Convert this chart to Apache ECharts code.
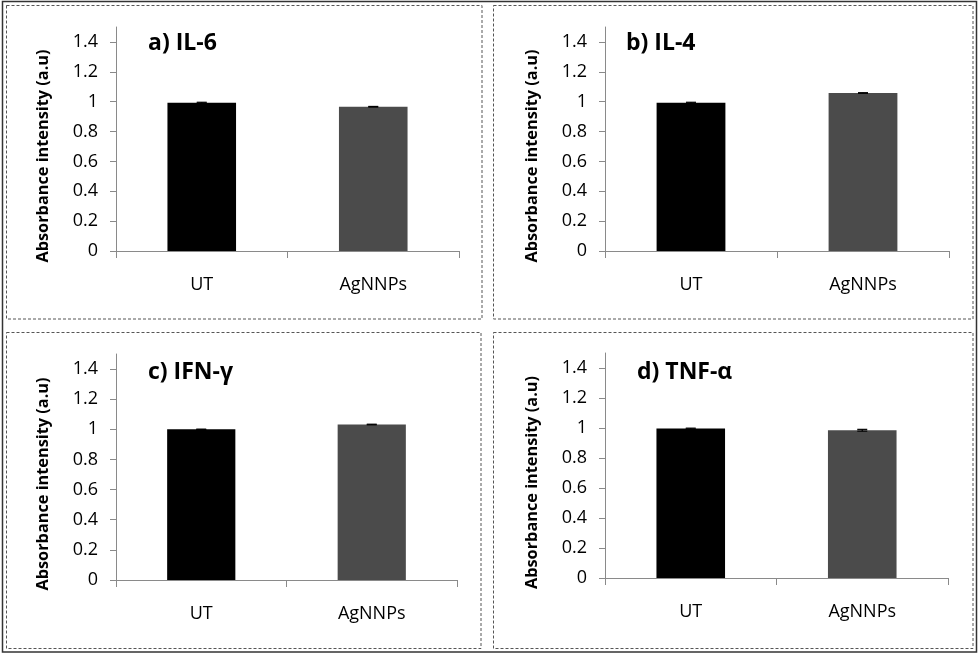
<!DOCTYPE html>
<html><head><meta charset="utf-8">
<script src="https://cdn.jsdelivr.net/npm/echarts@6/dist/echarts.min.js"></script>
<style>html,body{margin:0;padding:0;background:#fff}#c{width:979px;height:655px}</style>
</head><body><div id="c"></div>
<script>
const categories = ['UT', 'AgNNPs'];
const panelTitles = ['a) IL-6', 'b) IL-4', 'c) IFN-γ', 'd) TNF-α'];
const il6 = [0.993, 0.966];
const il4 = [0.993, 1.058];
const ifng = [1.0, 1.032];
const tnfa = [0.996, 0.985];
const il6Err = [0.003, 0.002];
const il4Err = [0.003, 0.002];
const ifngErr = [0.001, 0.002];
const tnfaErr = [0.003, 0.006];
const yTicks = [0, 0.2, 0.4, 0.6, 0.8, 1, 1.2, 1.4];
const yMax = 1.5;
const yAxisTitle = 'Absorbance intensity (a.u)';
const barColors = ['#000000', '#4b4b4b'];

const values = [il6, il4, ifng, tnfa];
const errors = [il6Err, il4Err, ifngErr, tnfaErr];

const grids = [
  { left: 116, top: 27, width: 343, height: 224 },
  { left: 605, top: 27, width: 344, height: 224 },
  { left: 116, top: 354, width: 341, height: 226 },
  { left: 605, top: 353, width: 343, height: 225 }
];
const titlePos = [
  { left: 148, top: 31 },
  { left: 626, top: 31 },
  { left: 148, top: 360 },
  { left: 637, top: 360 }
];
const FONT = '"Open Sans", Lato, sans-serif';
const axisColor = '#8a8a8a';

const option = {
  animation: false,
  backgroundColor: '#ffffff',
  title: panelTitles.map((t, i) => ({
    text: t, left: titlePos[i].left, top: titlePos[i].top, padding: 0,
    textStyle: { fontFamily: FONT, fontSize: 23, fontWeight: 'bold', color: '#000', lineHeight: 24 }
  })),
  grid: grids.map(g => Object.assign({ containLabel: false }, g)),
  xAxis: grids.map((g, i) => ({
    type: 'category', gridIndex: i, data: categories,
    axisLine: { lineStyle: { color: axisColor, width: 1 } },
    axisTick: { show: true, length: 7, lineStyle: { color: axisColor } },
    axisLabel: { margin: 25, fontFamily: FONT, fontSize: 18, color: '#000' },
    splitLine: { show: false }
  })),
  yAxis: grids.map((g, i) => ({
    type: 'value', gridIndex: i, min: 0, max: yMax, interval: 0.2,
    name: yAxisTitle, nameLocation: 'middle', nameRotate: 90, nameGap: 65,
    nameTextStyle: { fontFamily: FONT, fontSize: 16.3, fontWeight: 'bold', color: '#000', padding: [0, 34, 0, 0] },
    axisLine: { show: true, lineStyle: { color: axisColor, width: 1 } },
    axisTick: { show: true, length: 6, lineStyle: { color: axisColor }, customValues: yTicks },
    axisLabel: { margin: 18, fontFamily: FONT, fontSize: 18, color: '#000', customValues: yTicks },
    splitLine: { show: false }
  })),
  series: [].concat(
    values.map((vals, i) => ({
      type: 'bar', xAxisIndex: i, yAxisIndex: i, barWidth: '40%',
      data: vals.map((v, j) => ({ value: v, itemStyle: { color: barColors[j] } }))
    })),
    values.map((vals, i) => ({
      type: 'custom', xAxisIndex: i, yAxisIndex: i, z: 10,
      data: vals.map((v, j) => [j, v, errors[i][j]]),
      renderItem: function (params, api) {
        const x = api.value(0), v = api.value(1), e = api.value(2);
        const hi = api.coord([x, v + e]);
        const lo = api.coord([x, v - e]);
        const half = 5;
        const st = { stroke: '#000', lineWidth: 1.2 };
        return {
          type: 'group', children: [
            { type: 'line', shape: { x1: hi[0], y1: hi[1], x2: lo[0], y2: lo[1] }, style: st },
            { type: 'line', shape: { x1: hi[0] - half, y1: hi[1], x2: hi[0] + half, y2: hi[1] }, style: st },
            { type: 'line', shape: { x1: lo[0] - half, y1: lo[1], x2: lo[0] + half, y2: lo[1] }, style: st }
          ]
        };
      }
    }))
  ),
  graphic: [
    { type: 'rect', shape: { x: 2.5, y: 1.5, width: 974, height: 650.5 }, style: { fill: null, stroke: '#333', lineWidth: 1.5 }, silent: true },
    { type: 'rect', shape: { x: 6.5, y: 5.5, width: 475.5, height: 313.5 }, style: { fill: null, stroke: '#555', lineWidth: 1, lineDash: [3, 2] }, silent: true },
    { type: 'rect', shape: { x: 493.5, y: 5.5, width: 479.5, height: 313.5 }, style: { fill: null, stroke: '#555', lineWidth: 1, lineDash: [3, 2] }, silent: true },
    { type: 'rect', shape: { x: 6.5, y: 332.5, width: 474.5, height: 316 }, style: { fill: null, stroke: '#555', lineWidth: 1, lineDash: [3, 2] }, silent: true },
    { type: 'rect', shape: { x: 493.5, y: 332.5, width: 479.5, height: 316 }, style: { fill: null, stroke: '#555', lineWidth: 1, lineDash: [3, 2] }, silent: true }
  ]
};
const chart = echarts.init(document.getElementById('c'), null, { renderer: 'canvas' });
chart.setOption(option);
</script>
</body></html>
